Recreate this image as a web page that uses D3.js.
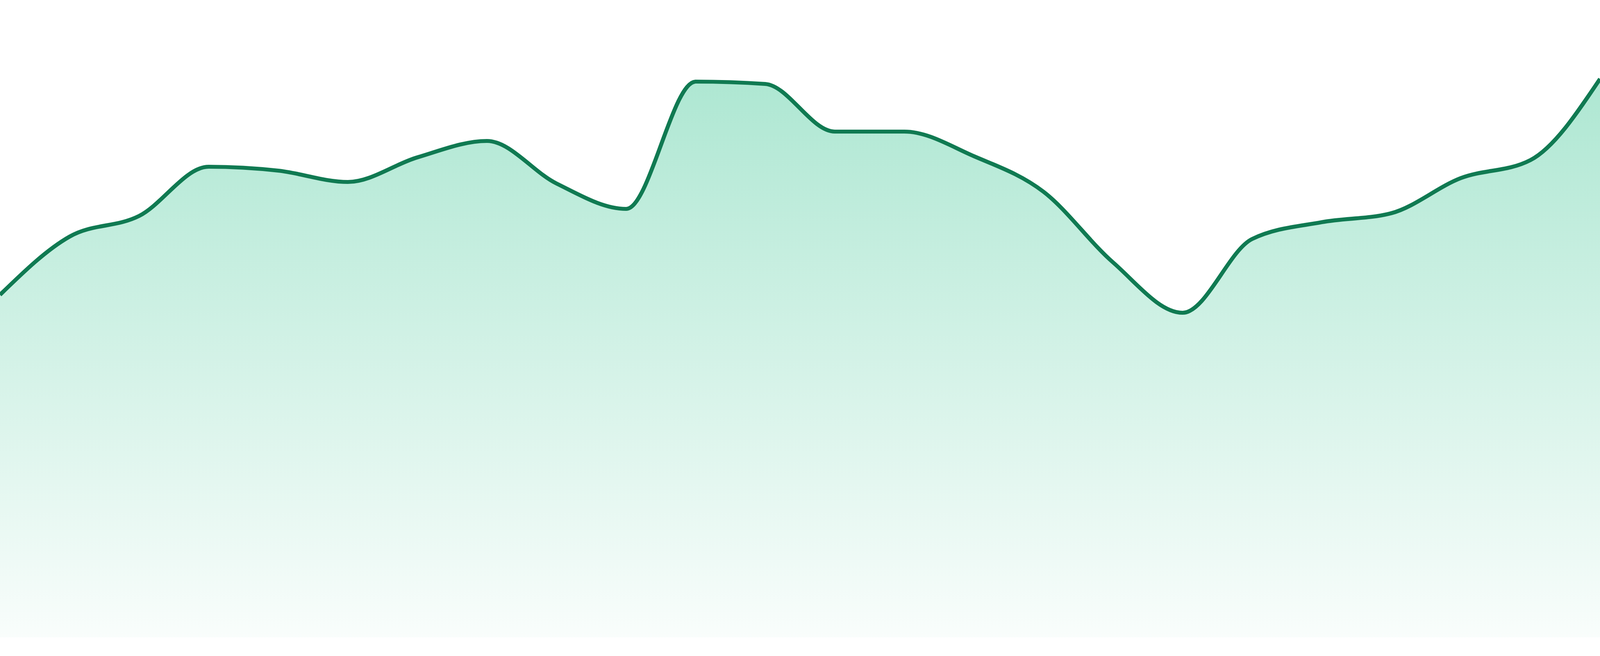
<!DOCTYPE html>
<html>
<head>
<meta charset="utf-8">
<script src="https://cdn.jsdelivr.net/npm/d3@7"></script>
<style>
  html, body { margin: 0; padding: 0; background: #ffffff; overflow: hidden; width: 100%; height: 100%; }
  #chart { width: 100vw; height: 100vh; }
  svg { display: block; }
</style>
</head>
<body>
<div id="chart"></div>
<script>
// ---- data ----
const categories = ["P1","P2","P3","P4","P5","P6","P7","P8","P9","P10","P11","P12",
                    "P13","P14","P15","P16","P17","P18","P19","P20","P21","P22","P23","P24"];
const values = [87.7, 102.6, 107.9, 120.5, 119.5, 116.6, 122.9, 127.1, 116.2, 109.7, 142.3, 141.7,
                129.5, 129.5, 123.2, 114.1, 96.0, 83.1, 102.0, 106.3, 108.6, 117.6, 122.2, 143.0];
const yDomain = [0, 150];

// ---- layout (fills the window) ----
const W = window.innerWidth || 4800;
const H = window.innerHeight || 1680;
const k = W / 4800;
const margin = { top: H * 132 / 1680, right: 0, bottom: H * 48 / 1680, left: 0 };

const svg = d3.select("#chart").append("svg")
  .attr("width", W).attr("height", H);

const x = d3.scalePoint()
  .domain(categories)
  .range([margin.left, W - margin.right]);

const y = d3.scaleLinear()
  .domain(yDomain)
  .range([H - margin.bottom, margin.top]);

const data = categories.map((c, i) => ({ c, v: values[i] }));

const defs = svg.append("defs");
const grad = defs.append("linearGradient")
  .attr("id", "areaGrad")
  .attr("x1", 0).attr("y1", 0).attr("x2", 0).attr("y2", 1);
grad.append("stop").attr("offset", "0%").attr("stop-color", "#34c38f").attr("stop-opacity", 0.4);
grad.append("stop").attr("offset", "100%").attr("stop-color", "#34c38f").attr("stop-opacity", 0.03);

const area = d3.area()
  .x(d => x(d.c))
  .y0(y(0))
  .y1(d => y(d.v))
  .curve(d3.curveMonotoneX);

const line = d3.line()
  .x(d => x(d.c))
  .y(d => y(d.v))
  .curve(d3.curveMonotoneX);

svg.append("path")
  .datum(data)
  .attr("d", area)
  .attr("fill", "url(#areaGrad)");

svg.append("path")
  .datum(data)
  .attr("d", line)
  .attr("fill", "none")
  .attr("stroke", "#107a52")
  .attr("stroke-width", 12 * k)
  .attr("stroke-linejoin", "round");
</script>
</body>
</html>
